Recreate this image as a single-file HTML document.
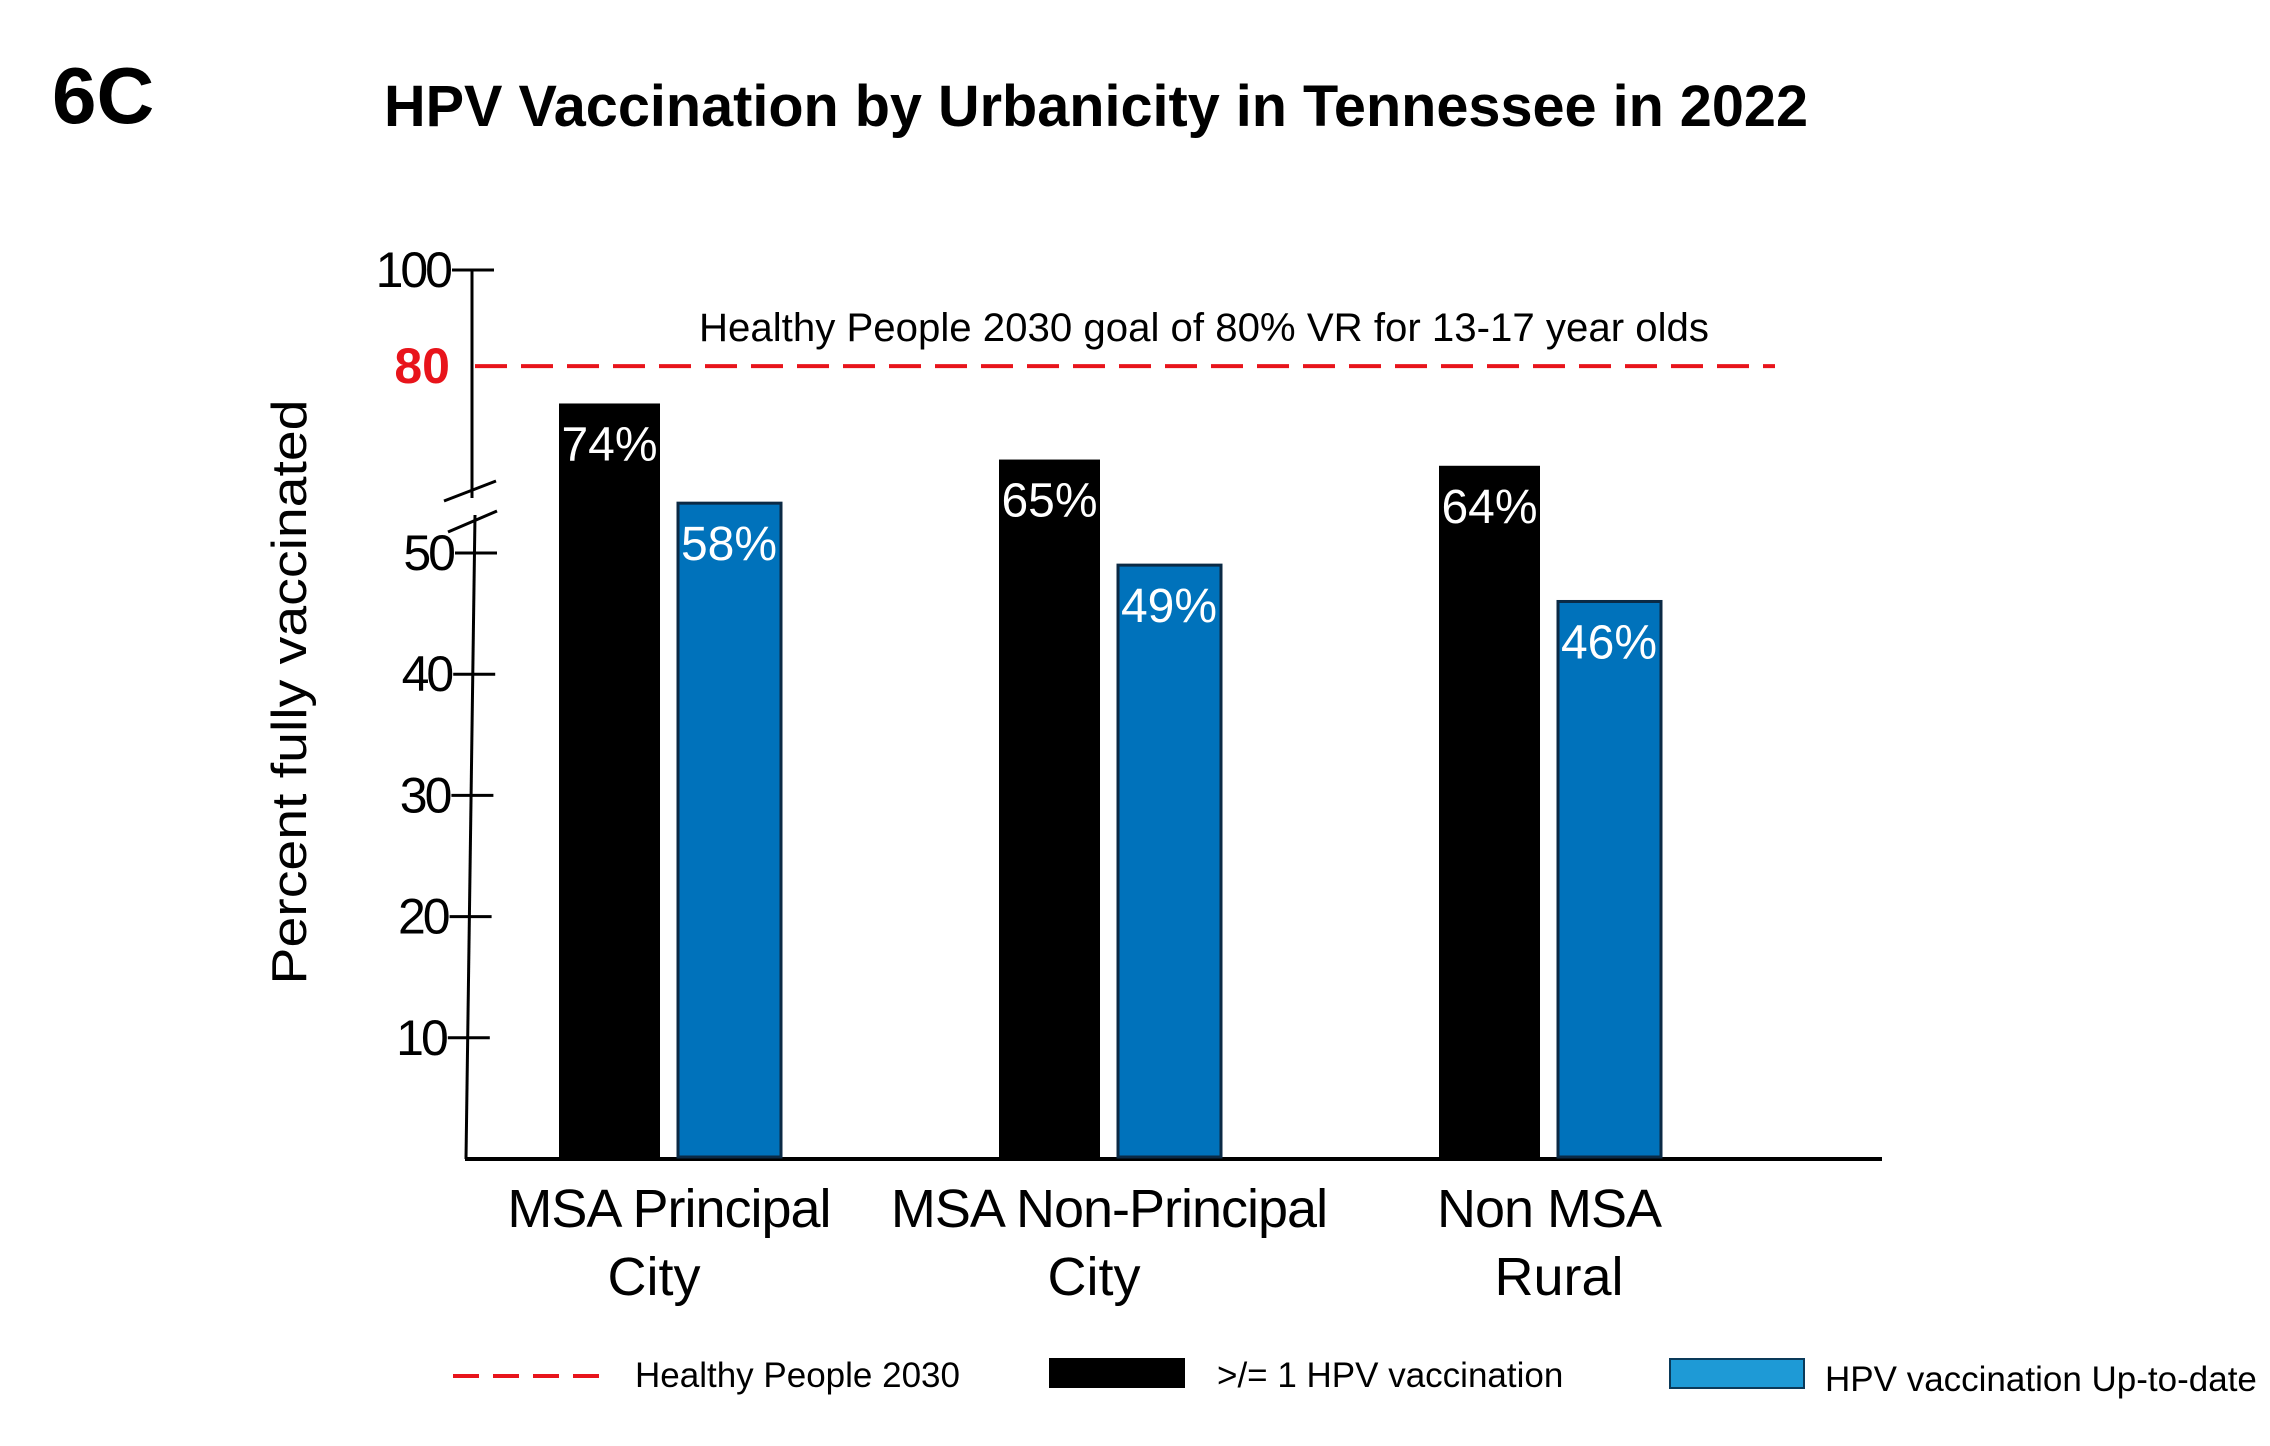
<!DOCTYPE html>
<html><head><meta charset="utf-8"><style>
html,body{margin:0;padding:0;background:#fff;}
svg{display:block;font-family:"Liberation Sans",sans-serif;}
</style></head><body>
<svg id="chart" width="2270" height="1446" viewBox="0 0 2270 1446" xmlns="http://www.w3.org/2000/svg">
<text x="52" y="123" font-size="80" font-weight="bold">6C</text>
<text x="384" y="126" font-size="58" font-weight="bold" textLength="1424" lengthAdjust="spacingAndGlyphs">HPV Vaccination by Urbanicity in Tennessee in 2022</text>
<text transform="translate(306,692) rotate(-90)" text-anchor="middle" font-size="49" textLength="585" lengthAdjust="spacingAndGlyphs">Percent fully vaccinated</text>
<g id="axes"></g>
<g id="bars"></g>
<g id="labels"></g>
<g>
<line x1="453" y1="1376" x2="607" y2="1376" stroke="#e8141b" stroke-width="4" stroke-dasharray="26,14"/>
<text x="635" y="1387" font-size="35">Healthy People 2030</text>
<rect x="1049" y="1358" width="136" height="30" fill="#000"/>
<text x="1217" y="1387" font-size="35">&gt;/= 1 HPV vaccination</text>
<rect x="1670" y="1359" width="134" height="29" fill="#1e9ad6" stroke="#0a3a5a" stroke-width="2"/>
<text x="1825" y="1391" font-size="35">HPV vaccination Up-to-date</text>
</g>
</svg>
<script>
const categories = [["MSA Principal","City"],["MSA Non-Principal","City"],["Non MSA","Rural"]];
const oneDose = [74, 65, 64];
const upToDate = [58, 49, 46];
const lowerTicks = [10, 20, 30, 40, 50];
const upperTicks = [100];
const goal = 80;
const goalText = "Healthy People 2030 goal of 80% VR for 13-17 year olds";

const NS = "http://www.w3.org/2000/svg";
function y(v){ // broken axis
  if (v <= 50) return 1159 - v * 12.12;
  if (v <= 80) return 553 - (v - 50) * 6.23;
  return 366 - (v - 80) * 4.8;
}
function gx(i){ return 559 + i * 440; }
function mk(tag, attrs, parent, text){
  const e = document.createElementNS(NS, tag);
  for (const k in attrs) e.setAttribute(k, attrs[k]);
  if (text !== undefined) e.textContent = text;
  parent.appendChild(e); return e;
}
const axes = document.getElementById('axes');
const bars = document.getElementById('bars');
const labels = document.getElementById('labels');

let e;
e = mk('line',{x1:465,y1:1159,x2:1882,y2:1159,stroke:'#000','stroke-width':4},axes);


e = mk('line',{x1:472,y1:y(100),x2:472,y2:498,stroke:'#000','stroke-width':3},axes);


e = mk('line',{x1:475,y1:515,x2:466,y2:1159,stroke:'#000','stroke-width':3},axes);


e = mk('line',{x1:444,y1:501,x2:496,y2:481,stroke:'#000','stroke-width':3},axes);


e = mk('line',{x1:448,y1:532,x2:497,y2:511,stroke:'#000','stroke-width':3},axes);



lowerTicks.concat(upperTicks).forEach(t=>{
  const yy = y(t);
  const ax = t<=50 ? 475 - (1-t/50)*9 : 472;
  e = mk('line',{x1:ax-20,y1:yy,x2:ax+22,y2:yy,stroke:'#000','stroke-width':3},axes);
  
  
  e = mk('text',{x:ax-22,y:yy+17,'font-size':50,'text-anchor':'end','letter-spacing':'-3'},axes,String(t));
  
  
});

e = mk('line',{x1:475,y1:y(goal),x2:1775,y2:y(goal),stroke:'#e8141b','stroke-width':4,'stroke-dasharray':'32,14'},axes);


e = mk('text',{x:450,y:y(goal)+17,'font-size':50,'font-weight':'bold',fill:'#e8141b','text-anchor':'end'},axes,String(goal));


e = mk('text',{x:699,y:y(goal)-25,'font-size':40,textLength:1010,lengthAdjust:'spacingAndGlyphs'},axes,goalText);



const BW = 101;
categories.forEach((c,i)=>{
  const x0 = gx(i);
  const t1 = y(oneDose[i]);
  e = mk('rect',{x:x0,y:t1,width:BW,height:1159-t1,fill:'#000'},bars);
  
  
  e = mk('text',{x:x0+BW/2,y:t1+57,'font-size':48,fill:'#fff','text-anchor':'middle'},labels,oneDose[i]+'%');
  
  
  const x1 = x0 + 119;
  const t2 = y(upToDate[i]);
  e = mk('rect',{x:x1,y:t2,width:103,height:1157-t2,fill:'#0072bb',stroke:'#0b2a45','stroke-width':3},bars);
  
  
  e = mk('text',{x:x1+51,y:t2+57,'font-size':48,fill:'#fff','text-anchor':'middle'},labels,upToDate[i]+'%');
  
  
  const cx = x0 + 110;
  e = mk('text',{x:cx,y:1227,'font-size':54,'text-anchor':'middle','letter-spacing':'-1'},labels,c[0]);
  
  
  e = mk('text',{x:cx - (i<2?15:-10),y:1295,'font-size':54,'text-anchor':'middle'},labels,c[1]);
  
  
});
</script>
</body></html>
